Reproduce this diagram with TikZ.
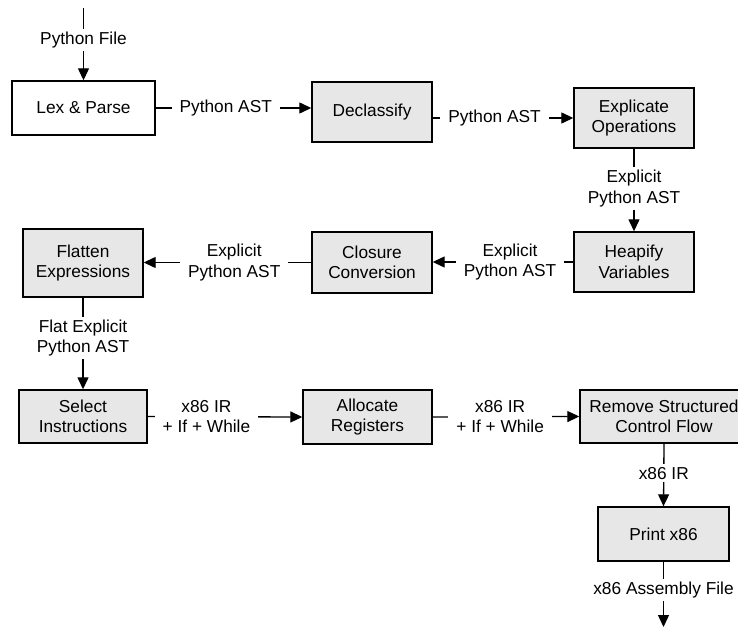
\documentclass[tikz,border=0pt]{standalone}
\usepackage{fontspec}
\setmainfont{Liberation Sans}
\usetikzlibrary{arrows.meta}
\definecolor{boxgray}{RGB}{231,231,231}
\begin{document}
\begin{tikzpicture}[x=1pt,y=-1pt,
  every node/.style={font=\fontsize{17.3}{20.5}\selectfont},
  box/.style={draw, line width=1.4pt, fill=boxgray, inner sep=0pt, align=center},
  conn/.style={line width=1.3pt, -{Triangle[length=12pt,width=11pt]}},
  lbl/.style={fill=white, inner xsep=8pt, inner ysep=3pt, align=center}]
\useasboundingbox (0,0) rectangle (738,628);
\node[box, fill=white, minimum width=143pt, minimum height=54pt] (lex) at (83.5,108) {Lex \& Parse};
\node[box, minimum width=120pt, minimum height=60pt] (decl) at (372,112) {Declassify};
\node[box, minimum width=120pt, minimum height=60pt] (expl) at (634,118) {Explicate\\Operations};
\node[box, minimum width=120pt, minimum height=60pt] (heap) at (634,262) {Heapify\\Variables};
\node[box, minimum width=120pt, minimum height=61pt] (clos) at (372,262.5) {Closure\\Conversion};
\node[box, minimum width=120pt, minimum height=68pt] (flat) at (83,263) {Flatten\\Expressions};
\node[box, minimum width=128pt, minimum height=53pt] (sel) at (83,416.5) {Select\\Instructions};
\node[box, minimum width=129pt, minimum height=54pt] (alloc) at (367.5,417) {Allocate\\Registers};
\node[box, minimum width=168pt, minimum height=53pt] (rem) at (664,416.5) {Remove Structured\\Control Flow};
\node[box, minimum width=131pt, minimum height=54pt] (print) at (663.5,534) {Print x86};
\coordinate (in) at (83.5,8);
\coordinate (out) at (663.5,627);

\draw[conn] (in) -- node[lbl, pos=0.44] (l0) {Python File} (lex.north);
\draw[conn] (lex.east) -- node[lbl, pos=0.45] (l1) {Python AST} (lex.east -| decl.west);
\draw[conn] (decl.east |- expl.west) -- node[lbl, pos=0.44] (l2) {Python AST} (expl.west);
\draw[conn] (expl.south) -- node[lbl, pos=0.48] (l3) {Explicit\\Python AST} (heap.north);
\draw[conn] (heap.west) -- node[lbl, pos=0.45] (l4) {Explicit\\Python AST} (clos.east |- heap.west);
\draw[conn] (clos.west) -- node[lbl, pos=0.46] (l5) {Explicit\\Python AST} (flat.east |- clos.west);
\draw[conn] (flat.south) -- node[lbl, pos=0.44] (l6) {Flat Explicit\\Python AST} (sel.north);
\draw[conn] (sel.east) -- node[lbl, pos=0.38] (l7) {x86 IR\\+ If + While} (alloc.west);
\draw[conn] (alloc.east) -- node[lbl, pos=0.46] (l8) {x86 IR\\+ If + While} (rem.west);
\draw[conn] (rem.south) -- node[lbl, pos=0.47] (l9) {x86 IR} (print.north);
\draw[conn] (print.south) -- node[lbl, pos=0.43] (l10) {x86 Assembly File} (out);
\end{tikzpicture}
\end{document}
